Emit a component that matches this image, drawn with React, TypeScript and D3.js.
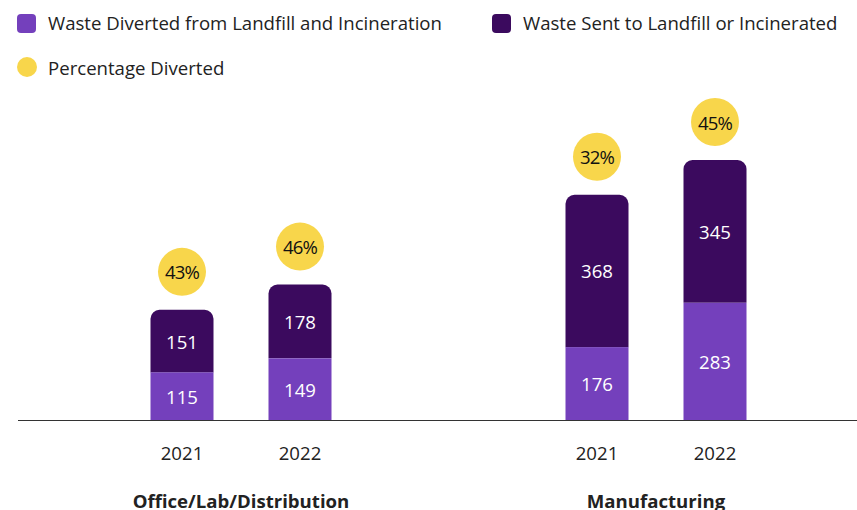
import React from "react";
import * as d3 from "d3";

const groups = ["Office/Lab/Distribution", "Manufacturing"];
const years = ["2021", "2022"];
const diverted = [
  [115, 149],
  [176, 283],
];
const landfill = [
  [151, 178],
  [368, 345],
];
const percentages = [
  ["43%", "46%"],
  ["32%", "45%"],
];
const legendItems = [
  "Waste Diverted from Landfill and Incineration",
  "Waste Sent to Landfill or Incinerated",
  "Percentage Diverted",
];

const W = 857;
const H = 510;
const LIGHT = "#7440BC";
const DARK = "#3B0A5E";
const YELLOW = "#F8D64B";
const TEXT = "#222222";
const FONT = "'Open Sans', sans-serif";
const FS = 18.6;

function topRoundedRect(x: number, y: number, w: number, h: number, r: number) {
  const p = d3.path();
  p.moveTo(x, y + h);
  p.lineTo(x, y + r);
  p.arcTo(x, y, x + r, y, r);
  p.lineTo(x + w - r, y);
  p.arcTo(x + w, y, x + w, y + r, r);
  p.lineTo(x + w, y + h);
  p.closePath();
  return p.toString();
}

export default function App() {
  const baseline = 420;
  const xGroup = d3.scalePoint<string>().domain(groups).range([241, 656]);
  const xYear = d3.scalePoint<string>().domain(years).range([-59, 59]);
  const maxTotal = d3.max(groups.map((_, gi) => d3.max(years.map((_, yi) => diverted[gi][yi] + landfill[gi][yi]))!))!;
  const y = d3.scaleLinear().domain([0, maxTotal]).range([baseline, 160]);
  const barW = 63;

  return (
    <svg width={W} height={H} style={{ position: "absolute", left: 0, top: 0, fontFamily: FONT }}>
      {/* Legend */}
      <rect x={17} y={14} width={19} height={19} rx={4} fill={LIGHT} />
      <text x={48} y={22} dominantBaseline="central" fontSize={FS} fill={TEXT}>{legendItems[0]}</text>
      <rect x={492} y={14} width={19} height={19} rx={4} fill={DARK} />
      <text x={523} y={22} dominantBaseline="central" fontSize={FS} fill={TEXT}>{legendItems[1]}</text>
      <circle cx={27} cy={67} r={10} fill={YELLOW} />
      <text x={48} y={67} dominantBaseline="central" fontSize={FS} fill={TEXT}>{legendItems[2]}</text>

      {groups.map((g, gi) => {
        const gx = xGroup(g)!;
        return (
          <g key={g}>
            {years.map((yr, yi) => {
              const cx = gx + xYear(yr)!;
              const d = diverted[gi][yi];
              const l = landfill[gi][yi];
              const yMid = y(d);
              const yTop = y(d + l);
              return (
                <g key={yr}>
                  <path d={topRoundedRect(cx - barW / 2, yTop, barW, yMid - yTop, 9)} fill={DARK} />
                  <rect x={cx - barW / 2} y={yMid} width={barW} height={baseline - yMid} fill={LIGHT} />
                  <text x={cx} y={(yTop + yMid) / 2} textAnchor="middle" dominantBaseline="central" fontSize={FS} fill="#fff">{l}</text>
                  <text x={cx} y={(yMid + baseline) / 2} textAnchor="middle" dominantBaseline="central" fontSize={FS} fill="#fff">{d}</text>
                  <circle cx={cx} cy={yTop - 38} r={24} fill={YELLOW} />
                  <text x={cx} y={yTop - 38} textAnchor="middle" dominantBaseline="central" fontSize={FS} letterSpacing={-0.8} fill="#111">{percentages[gi][yi]}</text>
                  <text x={cx} y={452} textAnchor="middle" dominantBaseline="central" fontSize={FS} fill={TEXT}>{yr}</text>
                </g>
              );
            })}
            <text x={gx} y={500} textAnchor="middle" dominantBaseline="central" fontSize={FS} fontWeight={700} fill={TEXT}>{g}</text>
          </g>
        );
      })}

      <line x1={18} x2={W} y1={baseline + 0.5} y2={baseline + 0.5} stroke="#333" strokeWidth={1} />
    </svg>
  );
}
